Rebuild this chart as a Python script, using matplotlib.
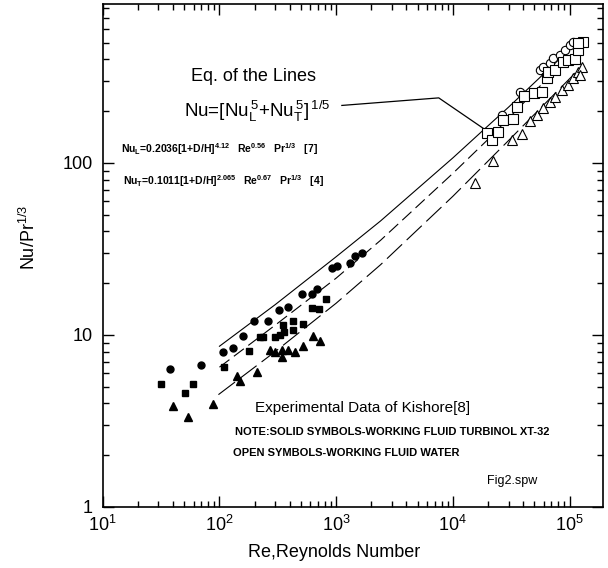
import matplotlib.pyplot as plt
from matplotlib.ticker import LogLocator, NullFormatter, FixedLocator, FixedFormatter

plt.rcParams["font.family"] = ["Liberation Sans", "DejaVu Sans"]
plt.rcParams["mathtext.default"] = "regular"
plt.rcParams["lines.scale_dashes"] = False

# correlation lines Nu = [Nu_L^5 + Nu_T^5]^(1/5)
re_line1 = [100, 300, 1000, 2400, 10000, 18000, 30000, 115000]
nu_line1 = [8.6, 15.0, 28.5, 46.0, 107, 154, 211, 500]
re_line2 = [100, 300, 1000, 2400, 10000, 20000, 100000]
nu_line2 = [6.5, 11.4, 21.4, 35.5, 87, 137, 420]
re_line3 = [98, 300, 1000, 2400, 10000, 30000, 125000]
nu_line3 = [4.5, 8.0, 15.3, 25.6, 64, 135, 360]

# solid symbols (Turbinol XT-32)
re_fcirc = [38, 70, 108, 131, 160, 198, 260, 322, 383, 507, 617, 690, 916, 1012, 1315, 1452, 1656]
nu_fcirc = [6.3, 6.7, 8.0, 8.4, 9.8, 12.0, 12.0, 14.0, 14.6, 17.2, 17.4, 18.4, 24.4, 25.2, 26.1, 28.8, 29.9]
re_fsq = [31.6, 50.7, 59.7, 109.5, 180, 223, 235, 299, 330, 353, 357, 425, 430, 524, 625, 718, 819]
nu_fsq = [5.17, 4.58, 5.17, 6.49, 8.11, 9.7, 9.7, 9.7, 10.0, 11.4, 10.45, 12.1, 10.7, 11.6, 14.3, 14.1, 16.1]
re_ftri = [40.3, 54.2, 87.7, 140.6, 150, 211, 272, 299, 346, 342, 389, 444, 517, 638, 728]
nu_ftri = [3.87, 3.35, 3.97, 5.78, 5.43, 6.12, 8.18, 8.0, 7.48, 8.18, 8.18, 8.0, 8.63, 9.87, 9.27]

# open symbols (water)
re_ocirc = [26300, 37700, 55800, 59700, 68100, 72700, 82900, 91600, 101000, 108000]
nu_ocirc = [190, 260, 347, 363, 380, 406, 425, 454, 485, 507]
re_osq = [19500, 21500, 24500, 27100, 33000, 35300, 40800, 49600, 57800, 63800, 65800,
          75100, 87300, 97700, 111000, 119000, 130000, 117000]
nu_osq = [149, 136, 152, 178, 180, 212, 245, 254, 260, 311, 340, 347, 388, 397, 400, 454, 507, 500]
re_otri = [15500, 22200, 32000, 38900, 45900, 52400, 59700, 68100, 75100, 85700, 97800,
           108000, 119000, 127000, 123000]
nu_otri = [76, 103, 136, 147, 176, 190, 208, 227, 243, 266, 284, 311, 340, 363, 325]

# leader from the equation to the lines
re_leader = [1119, 7570, 18970]
nu_leader = [216, 239, 156]

y_ticks = [1, 10, 100]
y_tick_labels = ["1", "10", "100"]


def main():
    fig = plt.figure(figsize=(6.08, 5.68), dpi=100)
    ax = fig.add_axes([0.169, 0.1074, 0.823, 0.8856])
    ax.set_xscale("log")
    ax.set_yscale("log")
    ax.set_xlim(10, 1.94e5)
    ax.set_ylim(1, 840)

    ax.plot(re_line1, nu_line1, color="black", lw=0.8)
    ax.plot(re_line2, nu_line2, color="black", lw=0.8, dashes=(9, 4))
    ax.plot(re_line3, nu_line3, color="black", lw=0.8, dashes=(15, 4.5))
    ax.plot(re_leader, nu_leader, color="black", lw=0.9)

    ax.plot(re_fcirc, nu_fcirc, "o", color="black", ms=5)
    ax.plot(re_fsq, nu_fsq, "s", color="black", ms=5)
    ax.plot(re_ftri, nu_ftri, "^", color="black", ms=5.5)
    ax.plot(re_ocirc, nu_ocirc, "o", mfc="white", mec="black", mew=0.8, ms=6)
    ax.plot(re_osq, nu_osq, "s", mfc="white", mec="black", mew=0.8, ms=7)
    ax.plot(re_otri, nu_otri, "^", mfc="white", mec="black", mew=0.8, ms=7)

    # ticks
    ax.xaxis.set_major_locator(LogLocator(base=10, numticks=10))
    ax.xaxis.set_minor_locator(LogLocator(base=10, subs=range(2, 10), numticks=20))
    ax.xaxis.set_minor_formatter(NullFormatter())
    ax.yaxis.set_major_locator(FixedLocator(y_ticks))
    ax.yaxis.set_major_formatter(FixedFormatter(y_tick_labels))
    ax.yaxis.set_minor_locator(LogLocator(base=10, subs=range(2, 10), numticks=20))
    ax.yaxis.set_minor_formatter(NullFormatter())
    ax.tick_params(which="both", direction="in", top=True, right=True, width=1.0)
    ax.tick_params(which="major", length=8, labelsize=13)
    ax.tick_params(which="minor", length=4)
    ax.tick_params(axis="y", which="major", pad=7)
    ax.tick_params(axis="x", which="major", pad=6)
    for sp in ax.spines.values():
        sp.set_linewidth(1.2)

    ax.set_xlabel("Re,Reynolds Number", fontsize=13)
    ax.xaxis.set_label_coords(0.462, -0.074)
    ax.set_ylabel("Nu/Pr$^{1/3}$", fontsize=13)
    ax.yaxis.set_label_coords(-0.128, 0.535)

    t = ax.transAxes
    ax.text(0.302, 0.846, "Eq. of the Lines", transform=t, fontsize=13,
            ha="center", va="baseline")
    ax.text(0.162, 0.775, "Nu=[Nu$_L^{\\,5}$+Nu$_T^{\\,5}$]$^{\\,1/5}$", transform=t,
            fontsize=13.5, ha="left", va="baseline")
    ax.text(0.037, 0.704,
            "Nu$_L$=0.2036[1+D/H]$^{4.12}$   Re$^{0.56}$   Pr$^{1/3}$   [7]",
            transform=t, fontsize=7.5, fontweight="bold", ha="left", va="baseline")
    ax.text(0.04, 0.64,
            "Nu$_T$=0.1011[1+D/H]$^{2.065}$   Re$^{0.67}$   Pr$^{1/3}$   [4]",
            transform=t, fontsize=7.5, fontweight="bold", ha="left", va="baseline")
    ax.text(0.304, 0.197, "Experimental Data of Kishore[8]", transform=t,
            fontsize=11, ha="left", va="center")
    ax.text(0.2645, 0.150, "NOTE:SOLID SYMBOLS-WORKING FLUID TURBINOL XT-32",
            transform=t, fontsize=8, fontweight="bold", ha="left", va="center")
    ax.text(0.26, 0.107, "OPEN SYMBOLS-WORKING FLUID WATER",
            transform=t, fontsize=8, fontweight="bold", ha="left", va="center")
    ax.text(0.768, 0.052, "Fig2.spw", transform=t, fontsize=9,
            ha="left", va="center")

    fig.savefig("out.png", dpi=100)
    plt.close(fig)


if __name__ == "__main__":
    main()
